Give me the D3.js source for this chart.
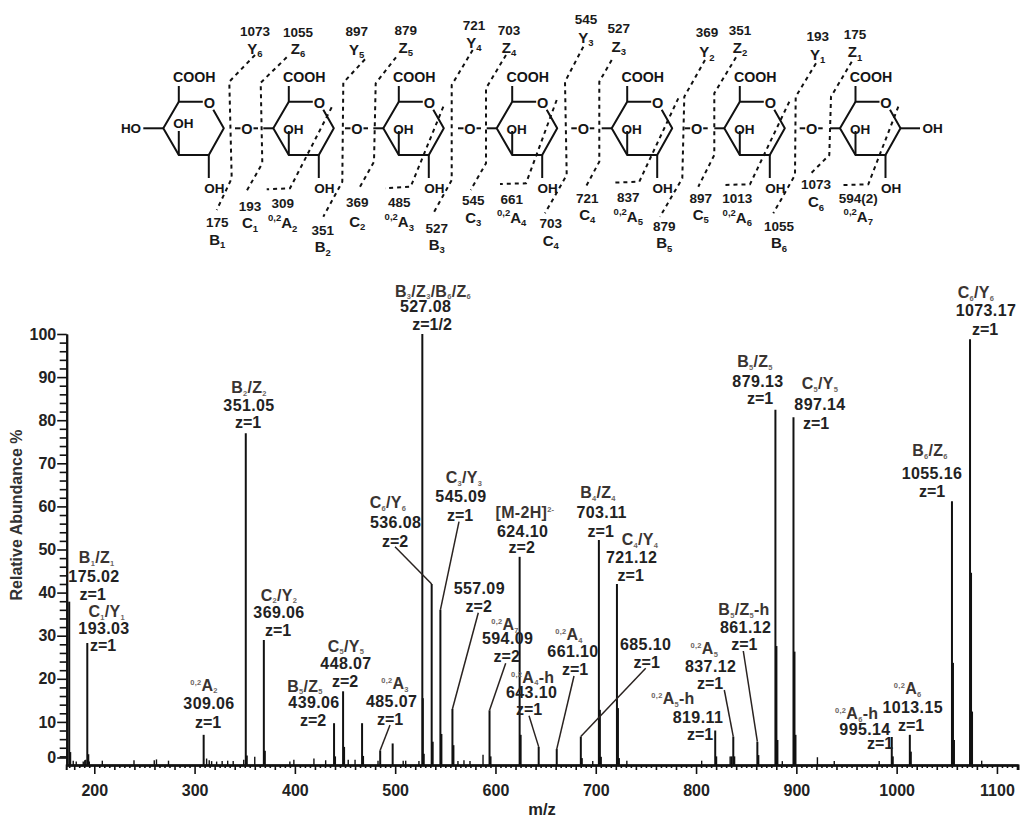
<!DOCTYPE html>
<html>
<head>
<meta charset="utf-8">
<title>MS/MS spectrum</title>
<script src="https://cdn.jsdelivr.net/npm/d3@7"></script>
<style>
  body { margin: 0; background: #fff; }
  svg { display: block; font-family: "Liberation Sans", Arial, sans-serif; font-weight: bold; }
  .axis path, .axis line { stroke: #111; shape-rendering: auto; }
  .axis text { font-family: "Liberation Sans", Arial, sans-serif; font-weight: bold; font-size: 16px; fill: #222; }
</style>
</head>
<body>
<div id="chart"></div>
<script>
// peaks: m/z and relative abundance
var peakMz = [175.02, 176.02, 193.03, 194.03, 309.06, 351.05, 352.05, 369.06, 370.06, 439.06, 440.06,
  448.07, 449.07, 467, 468, 485.07, 497.5, 527.08, 527.58, 528.5, 536.4, 537.4, 545.09, 546.09,
  557.09, 558.09, 594.09, 595.09, 624.1, 625.1, 643.1, 661.1, 685.1, 686.1,
  703.11, 704.11, 705.11, 721.12, 722.12, 723.12, 819.11, 820.11, 835.5, 837.12, 838.12, 861.12, 862.12,
  879.13, 880.13, 881.13, 897.14, 898.14, 899.14, 995.14, 996.14, 1013.15, 1014.15,
  1055.16, 1056.16, 1057.16, 1073.17, 1074.17, 1075.17];
var peakAbundance = [37.9, 3, 28.3, 2.5, 7, 77, 2.2, 29, 3.3, 9.7, 2,
  17.1, 4.2, 9.7, 2.1, 3.4, 5, 100, 15.5, 2.6, 42, 5.4, 36, 7.2,
  13, 4.6, 12.7, 2, 48.3, 7, 4.2, 3.7, 6.6, 1.6,
  52.2, 12.8, 1.9, 42, 13.2, 1.6, 8, 2, 2, 6.6, 2, 5.4, 2.3,
  82.4, 27.6, 5.8, 80.7, 26.3, 7, 6.5, 2, 7, 3.1,
  61.2, 23.7, 5.8, 98.8, 44.6, 12.4];

// small background peaks
var noiseMz = [179, 182, 189, 190.5, 191.5, 195, 208, 239.6, 259.8, 262, 274, 312, 314.6, 317, 322, 327.5, 333,
  338.5, 349, 360, 395, 399, 419, 430.7, 453.2, 460, 482.9, 508, 510.5, 523.7, 562.6, 568.6, 574.6, 587.6,
  697, 731, 805.6, 834, 886, 921, 937.8, 982.6, 1084.8];
var noiseAbundance = [1, 0.8, 0.8, 1.1, 1.2, 0.8, 1, 1.1, 1.1, 1.3, 1, 1.5, 1.1, 0.9, 0.8, 0.9, 1, 0.9, 1.2, 1.9,
  0.8, 1.2, 1.5, 1.1, 1.2, 1.2, 1, 1, 1, 0.9, 0.9, 1.1, 0.9, 2.4, 0.9, 1, 1, 2, 0.9, 1.8, 0.9, 0.9, 1];

var xMajor = [200, 300, 400, 500, 600, 700, 800, 900, 1000, 1100];
var yMajor = [0, 10, 20, 30, 40, 50, 60, 70, 80, 90, 100];

// spectrum annotations
var ionNames = ["B_{1}/Z_{1}", "C_{1}/Y_{1}", "B_{2}/Z_{2}", "C_{2}/Y_{2}", "^{0,2}A_{2}", "B_{5}/Z_{5}", "C_{5}/Y_{5}", "^{0,2}A_{3}",
  "B_{3}/Z_{3}/B_{6}/Z_{6}", "C_{6}/Y_{6}", "C_{3}/Y_{3}", "[M-2H]^{2-}", "B_{4}/Z_{4}", "C_{4}/Y_{4}", "", "^{0,2}A_{7}",
  "^{0,2}A_{4}-h", "^{0,2}A_{4}", "", "^{0,2}A_{5}", "^{0,2}A_{5}-h", "B_{5}/Z_{5}-h", "B_{5}/Z_{5}", "C_{5}/Y_{5}",
  "B_{6}/Z_{6}", "C_{6}/Y_{6}", "^{0,2}A_{6}-h", "^{0,2}A_{6}"];
var ionMz = ["175.02", "193.03", "351.05", "369.06", "309.06", "439.06", "448.07", "485.07",
  "527.08", "536.08", "545.09", "624.10", "703.11", "721.12", "557.09", "594.09",
  "643.10", "661.10", "685.10", "837.12", "819.11", "861.12", "879.13", "897.14",
  "1055.16", "1073.17", "995.14", "1013.15"];
var ionCharge = ["z=1", "z=1", "z=1", "z=1", "z=1", "z=2", "z=2", "z=1",
  "z=1/2", "z=2", "z=1", "z=2", "z=1", "z=1", "z=2", "z=2",
  "z=1", "z=1", "z=1", "z=1", "z=1", "z=1", "z=1", "z=1",
  "z=1", "z=1", "z=1", "z=1"];

// structure labels
var topMasses = ["1073", "1055", "897", "879", "721", "703", "545", "527", "369", "351", "193", "175"];
var topIons = ["Y_{6}", "Z_{6}", "Y_{5}", "Z_{5}", "Y_{4}", "Z_{4}", "Y_{3}", "Z_{3}", "Y_{2}", "Z_{2}", "Y_{1}", "Z_{1}"];
var bottomMasses = ["175", "193", "309", "351", "369", "485", "527", "545", "661", "703", "721", "837", "879", "897", "1013", "1055", "1073", "594(2)"];
var bottomIons = ["B_{1}", "C_{1}", "^{0,2}A_{2}", "B_{2}", "C_{2}", "^{0,2}A_{3}", "B_{3}", "C_{3}", "^{0,2}A_{4}", "C_{4}", "C_{4}", "^{0,2}A_{5}", "B_{5}", "C_{5}", "^{0,2}A_{6}", "B_{6}", "C_{6}", "^{0,2}A_{7}"];

// ---- layout, in page pixels ----
// name x, name baseline, m/z x, m/z baseline, z x, z baseline
var ionLayout = [
  [96.7, 563, 94, 582, 92.7, 600], [106.7, 617, 104, 634, 103, 651], [249, 393, 249, 411, 248, 428],
  [279, 600.7, 279, 618, 278, 636], [204, 690.7, 209, 709, 208, 727.7], [305, 691.7, 314, 708, 313, 726],
  [346, 651.7, 346, 669, 345, 686.7], [395, 689, 391.7, 707, 390, 725], [433, 296.7, 425.7, 312, 432, 330],
  [388, 508, 395.7, 528, 395, 546.7], [464, 483, 461, 502, 460, 520.7], [525, 518, 522.7, 536.7, 521.7, 553],
  [598, 498, 601.7, 518, 600.7, 536.7], [640, 545, 631.7, 562.7, 630.7, 580.7], [0, 0, 479.3, 594, 478.7, 611.7],
  [505, 630, 507.7, 644, 506.7, 661.7], [532.7, 682.7, 531.7, 698, 529, 715], [569, 640, 573, 657, 575, 675],
  [0, 0, 645.7, 650, 646.7, 667.7], [704.3, 654, 710.7, 671.7, 710, 689], [673, 704, 698, 722.7, 700, 740],
  [744, 615, 745.7, 632.7, 744.3, 650], [755, 367, 758, 387, 760, 404], [820, 389, 820, 410, 816, 429],
  [930, 456, 932, 479, 932, 497], [976, 298, 986, 316, 985, 335], [856.7, 719, 865, 735, 880, 749],
  [907.7, 694, 912.7, 712.7, 911, 730.7]
];
// leader lines: start next to the label, end on the top of a peak
var leaderStart = [[395, 546.7], [459, 521.7], [478.3, 612.7], [505.7, 663.3], [529, 715.7], [574, 676], [645.7, 668.3], [724.3, 690], [743.3, 651], [390, 725]];
var leaderPeak = [536.4, 545.09, 557.09, 594.09, 643.1, 661.1, 685.1, 837.12, 861.12, 485.07];

var topLayout = [[255, 36, 54], [298, 37, 54], [356.7, 36, 55], [405.7, 35, 53], [474, 30, 48], [509, 35, 53],
  [586, 24, 42.7], [618.7, 32.7, 51.7], [707, 37.3, 57.3], [740, 35, 53], [817.7, 40.7, 60], [855, 39.3, 57.3]];
var bottomLayout = [[217.3, 227.3, 245], [250, 210.7, 228.3], [282.7, 208.3, 228.3], [322.7, 235, 252.3], [357.3, 207.3, 226.7],
  [399.3, 207.3, 227.3], [436.7, 232.7, 250], [473.3, 205, 222.7], [511.7, 204, 222.7], [550.7, 228.3, 246], [587.3, 202.7, 220],
  [628.3, 201.7, 221.7], [664.3, 230.7, 248.3], [700.7, 202.7, 220], [737.3, 202.7, 222.7], [779, 230.7, 248.3], [816, 189, 207.3], [858.3, 202.7, 221.7]];

var ringLeft = [163.3, 273.3, 383.3, 496.7, 611.7, 724.3, 840];
var bridgeO = [247, 357, 470, 583.3, 696.7, 811.7];
var cuts = [
  [[255, 55], [229.3, 81.7], [231.7, 178.3], [216.7, 210]],
  [[286.7, 57.3], [260.7, 82.7], [262.3, 163.3], [245.7, 192.7]],
  [[331.7, 107.3], [290, 188.3], [266.7, 189.3]],
  [[365, 59.3], [343.3, 82.7], [342.3, 181.7], [323.3, 216.7]],
  [[396, 57.3], [375.7, 83.3], [374, 161.7], [360, 186.7]],
  [[443.3, 106.7], [410.7, 186.7], [385, 188.3]],
  [[472.7, 50], [451.7, 85], [451.7, 180], [433.3, 213.3]],
  [[506, 55], [486, 88.3], [486, 163.3], [470.7, 190]],
  [[556.7, 100], [526, 183.3], [500, 184]],
  [[583.3, 46.7], [565, 81.7], [566.7, 175], [545, 213.3]],
  [[611.7, 60], [599.3, 81.7], [599.3, 161.7], [585, 188.3]],
  [[678.3, 98.3], [639.3, 181.7], [613.3, 182.7]],
  [[705, 60], [684.3, 96.7], [682.3, 178.3], [660, 216.7]],
  [[736, 57.3], [714.3, 93.3], [714.3, 155], [698.3, 186.7]],
  [[789.3, 101.7], [750, 184.3], [722.7, 185]],
  [[816, 63.3], [795.7, 96.7], [795, 175], [773.3, 213.3]],
  [[851.7, 61.7], [831, 96.7], [829.3, 155], [811, 173.3]],
  [[898.3, 106.7], [868.3, 184.3], [843.3, 185]]
];

var width = 1024, height = 823;
var svg = d3.select('#chart').append('svg').attr('width', width).attr('height', height);

// writes "A_{1}" / "^{0,2}A" as tspans
function rich(sel, str, subSize, subFill) {
  var parts = str.split(/(\^\{[^}]*\}|_\{[^}]*\})/).filter(function (p) { return p !== ''; });
  var back = 0;
  parts.forEach(function (p) {
    var t = sel.append('tspan');
    var shift = 0;
    if (p[0] === '_' && p[1] === '{') {
      shift = subSize * 0.35;
      t.text(p.slice(2, -1)).style('font-size', subSize + 'px').style('fill', subFill);
    } else if (p[0] === '^' && p[1] === '{') {
      shift = -subSize * 0.75;
      t.text(p.slice(2, -1)).style('font-size', subSize + 'px').style('fill', subFill);
    } else {
      t.text(p);
    }
    t.attr('dy', back + shift);
    back = -shift;
  });
}

function label(x, y, str, size, fill, spacing, subSize, subFill) {
  var t = svg.append('text')
    .attr('x', x).attr('y', y)
    .attr('text-anchor', 'middle')
    .style('font-size', size + 'px')
    .style('fill', fill)
    .style('letter-spacing', spacing + 'px');
  rich(t, str, subSize, subFill);
}

// ---- spectrum ----
var xScale = d3.scaleLinear().domain([172, 1121]).range([66.2, 1018]);
var yScale = d3.scaleLinear().domain([0, 100]).range([765, 334]);

var xMinor = d3.range(175, 1121, 5).filter(function (d) { return d % 20 !== 0; });
var xMid = d3.range(180, 1121, 20).filter(function (d) { return d % 100 !== 0; });

var xAxisG = svg.append('g').attr('class', 'x axis').attr('transform', 'translate(0,765)');
xAxisG.append('g').call(d3.axisBottom(xScale).tickValues(xMinor).tickSize(3).tickSizeOuter(0).tickFormat(''));
xAxisG.append('g').call(d3.axisBottom(xScale).tickValues(xMid).tickSize(5).tickSizeOuter(0).tickFormat(''));
xAxisG.append('g').call(d3.axisBottom(xScale).tickValues(xMajor).tickSize(9).tickSizeOuter(5).tickPadding(11).tickFormat(d3.format('d')));
xAxisG.selectAll('path').attr('stroke-width', 2);
xAxisG.selectAll('line').attr('stroke-width', 1.6);

var yAxisG = svg.append('g').attr('class', 'y axis').attr('transform', 'translate(66.7,0)');
var yMinor = d3.range(2, 100, 2).filter(function (d) { return d % 10 !== 0; });
yAxisG.append('g').call(d3.axisLeft(yScale).tickValues(yMinor).tickSize(7).tickSizeOuter(0).tickFormat(''));
var yMajorG = yAxisG.append('g').call(d3.axisLeft(yScale).tickValues(yMajor).tickSize(9.5).tickSizeOuter(0).tickPadding(1));
// the 0 tick sits above the baseline in the original figure
yMajorG.selectAll('.tick').filter(function (d) { return d === 0; }).attr('transform', 'translate(0,' + (yScale(0) - 7) + ')');
yAxisG.selectAll('path').attr('stroke-width', 2);
yAxisG.selectAll('line').attr('stroke-width', 1.6);

svg.append('g').selectAll('line.noise')
  .data(noiseMz)
  .enter().append('line')
  .attr('class', 'noise')
  .attr('x1', function (d) { return xScale(d); })
  .attr('x2', function (d) { return xScale(d); })
  .attr('y1', yScale(0))
  .attr('y2', function (d, i) { return yScale(noiseAbundance[i]); })
  .attr('stroke', '#111')
  .attr('stroke-width', 1.4);

svg.append('g').selectAll('line.peak')
  .data(peakMz)
  .enter().append('line')
  .attr('class', 'peak')
  .attr('x1', function (d) { return xScale(d); })
  .attr('x2', function (d) { return xScale(d); })
  .attr('y1', yScale(0))
  .attr('y2', function (d, i) { return yScale(peakAbundance[i]); })
  .attr('stroke', '#111')
  .attr('stroke-width', 2);

leaderPeak.forEach(function (m, i) {
  svg.append('line')
    .attr('x1', leaderStart[i][0]).attr('y1', leaderStart[i][1])
    .attr('x2', xScale(m)).attr('y2', yScale(peakAbundance[peakMz.indexOf(m)]))
    .attr('stroke', '#2a2320')
    .attr('stroke-width', 1.5);
});

ionNames.forEach(function (name, i) {
  var p = ionLayout[i];
  if (name !== '') label(p[0], p[1], name, 16, '#3a3431', 0.3, 7.5, '#6b6461');
  label(p[2], p[3], ionMz[i], 16, '#222', 0.4, 8, '#222');
  label(p[4], p[5], ionCharge[i], 16, '#222', 0, 8, '#222');
});

svg.append('text')
  .attr('transform', 'translate(22,515) rotate(-90)')
  .attr('text-anchor', 'middle')
  .style('font-size', '16px')
  .style('fill', '#333')
  .text('Relative Abundance %');

svg.append('text')
  .attr('x', 542).attr('y', 815)
  .attr('text-anchor', 'middle')
  .style('font-size', '16.5px')
  .style('fill', '#222')
  .text('m/z');

// ---- structure ----
var bond = d3.line();
function drawBond(pts) {
  svg.append('path')
    .attr('d', bond(pts))
    .attr('fill', 'none')
    .attr('stroke', '#111')
    .attr('stroke-width', 2)
    .attr('stroke-linejoin', 'round');
}
function atom(x, y, str, size) {
  svg.append('text').attr('x', x).attr('y', y)
    .attr('text-anchor', 'middle')
    .style('font-size', size + 'px')
    .style('fill', '#151515')
    .text(str);
}

ringLeft.forEach(function (l, i) {
  var top = 101.7, mid = 128.3, bot = 155;
  drawBond([[l + 39.5, top], [l + 15.5, top], [l, mid], [l + 15.5, bot], [l + 45.5, bot], [l + 60.5, mid], [l + 50, top + 8]]);
  drawBond([[l + 15.5, top], [l + 15.5, 86]]);
  drawBond([[l + 15.5, bot], [l + 15.5, 131]]);
  drawBond([[l + 45.5, bot], [l + 45.5, 178]]);
  atom(l + 31, 81.5, 'COOH', 14.2);
  atom(l + 46, 108, 'O', 14.5);
  atom(l + 20, i === 0 ? 128 : 134, 'OH', 13.5);
  atom(l + 51, 193, 'OH', 13.5);
  if (i < bridgeO.length) {
    var o = bridgeO[i];
    atom(o, 133.5, 'O', 14.5);
    drawBond([[o - 12, mid], [o - 6.5, mid]]);
    drawBond([[o + 6.5, mid], [o + 11, mid]]);
    drawBond([[ringLeft[i + 1] - 10, mid], [ringLeft[i + 1], mid]]);
  }
});
// the two end groups
atom(131, 133, 'HO', 13.5);
drawBond([[143.3, 128.3], [163.3, 128.3]]);
drawBond([[900.5, 128.3], [920, 128.3]]);
atom(932.7, 133, 'OH', 13.5);

cuts.forEach(function (c) {
  svg.append('path')
    .attr('d', bond(c))
    .attr('fill', 'none')
    .attr('stroke', '#111')
    .attr('stroke-width', 2)
    .attr('stroke-dasharray', '4 4');
});

topMasses.forEach(function (m, i) {
  var p = topLayout[i];
  label(p[0], p[1], m, 13.5, '#1a1a1a', 0, 9, '#1a1a1a');
  label(p[0], p[2], topIons[i], 15, '#1a1a1a', 0, 9.5, '#1a1a1a');
});
bottomMasses.forEach(function (m, i) {
  var p = bottomLayout[i];
  label(p[0], p[1], m, 13.5, '#1a1a1a', 0, 9, '#1a1a1a');
  label(p[0], p[2], bottomIons[i], 15, '#1a1a1a', 0, 9.5, '#1a1a1a');
});
</script>
</body>
</html>
